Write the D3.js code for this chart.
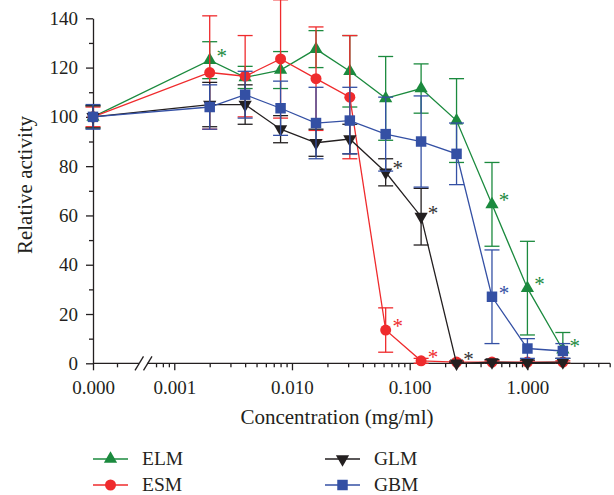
<!DOCTYPE html>
<html>
<head>
<meta charset="utf-8">
<script src="https://cdnjs.cloudflare.com/ajax/libs/d3/7.8.5/d3.min.js"></script>
<style>
  body { margin: 0; background: #fff; }
  svg text { font-family: "Liberation Serif", "DejaVu Serif", serif; fill: #231f20; }
</style>
</head>
<body>
<svg id="chart" width="614" height="495"></svg>
<script>
// concentrations in mg/ml, 0 sits on its own short segment before the axis break
var conc = [0, 0.002, 0.004, 0.008, 0.016, 0.031, 0.0625, 0.125, 0.25, 0.5, 1, 2];

var seriesNames = ["ELM", "ESM", "GLM", "GBM"];

var elmMean = [100, 123, 116, 119, 127.5, 118.5, 107.5, 111.5, 98.5, 64.5, 30.5, 5.5];
var elmErr  = [4.5, 7.5, 4.5, 7.5, 7.5, 14.5, 17, 10, 17, 17, 19, 7];

var esmMean = [100, 118, 116.5, 123.5, 115.5, 108, 13.5, 1, 0.5, 0.5, 0.5, 0.5];
var esmErr  = [4, 23, 16.5, 24, 21, 25, 9, 1, 0.5, 0.5, 0.5, 0.5];

var glmMean = [100, 105, 105, 95, 89.5, 91, 77.5, 59.5, 0, 0.5, 0.3, 0.5];
var glmErr  = [4.5, 9, 8, 5.5, 5.5, 6, 5.5, 11.5, 0.5, 1, 1, 1.5];

var gbmMean = [100, 104, 109, 103.5, 97.5, 98.5, 93, 90, 85, 27, 6, 5];
var gbmErr  = [5, 9, 9.5, 11, 14.5, 13.5, 15, 18.5, 12.5, 19, 4, 3];

// indices of points flagged with an asterisk
var elmSig = [1, 9, 10, 11];
var esmSig = [6, 7];
var glmSig = [6, 7, 8];
var gbmSig = [9];

var xTickValues = [0.001, 0.01, 0.1, 1];
var xTickLabels = ["0.001", "0.010", "0.100", "1.000"];
var xZeroLabel = "0.000";
var yTickValues = [0, 20, 40, 60, 80, 100, 120, 140];
var yMinorValues = [10, 30, 50, 70, 90, 110, 130];

var svg = d3.select("#chart");
var ink = "#231f20";

var xZero = d3.scaleLinear().domain([0, 0.001]).range([93, 141]);
var xLog = d3.scaleLog().domain([0.000686, 5.03]).range([155, 610]);
function xPos(v) { return v === 0 ? xZero(0) : xLog(v); }
var y = d3.scaleLinear().domain([0, 140]).range([363.3, 18.3]);

var series = [
  {name: seriesNames[0], mean: elmMean, err: elmErr, sig: elmSig, color: "#1b8a3e", shape: "up"},
  {name: seriesNames[1], mean: esmMean, err: esmErr, sig: esmSig, color: "#ef2b2d", shape: "circle"},
  {name: seriesNames[2], mean: glmMean, err: glmErr, sig: glmSig, color: "#231f20", shape: "down"},
  {name: seriesNames[3], mean: gbmMean, err: gbmErr, sig: gbmSig, color: "#3450a4", shape: "square"}
];

function symbolPath(shape) {
  if (shape === "circle") return d3.symbol().type(d3.symbolCircle).size(95)();
  if (shape === "square") return d3.symbol().type(d3.symbolSquare).size(110)();
  return d3.symbol().type(d3.symbolTriangle).size(76)();
}
function symbolTransform(shape, px, py) {
  return "translate(" + px + "," + py + ")" + (shape === "down" ? " rotate(180)" : "");
}

// ---- axes ----
var yAxis = svg.append("g").attr("transform", "translate(" + xZero(0) + ",0)")
  .call(d3.axisLeft(y).tickValues(yTickValues).tickSize(7).tickSizeOuter(0).tickPadding(8));
var yMinor = svg.append("g").attr("transform", "translate(" + xZero(0) + ",0)")
  .call(d3.axisLeft(y).tickValues(yMinorValues).tickSize(4).tickFormat(""));
yMinor.select(".domain").remove();

var logMinor = xLog.ticks().filter(function(d) { return xTickValues.indexOf(d) === -1; });
var xAxis = svg.append("g").attr("transform", "translate(0," + y(0) + ")")
  .call(d3.axisBottom(xLog).tickValues(xTickValues).tickSize(7).tickPadding(10)
    .tickFormat(function(d, i) { return xTickLabels[i]; }));
var xMinor = svg.append("g").attr("transform", "translate(0," + y(0) + ")")
  .call(d3.axisBottom(xLog).tickValues(logMinor).tickSize(4).tickFormat(""));
var xZeroAxis = svg.append("g").attr("transform", "translate(0," + y(0) + ")")
  .call(d3.axisBottom(xZero).tickValues([0]).tickSize(7).tickPadding(10)
    .tickFormat(function() { return xZeroLabel; }));
var xZeroMinor = svg.append("g").attr("transform", "translate(0," + y(0) + ")")
  .call(d3.axisBottom(xZero).tickValues([0.0005]).tickSize(4).tickFormat(""));
[xAxis, xMinor, xZeroAxis, xZeroMinor].forEach(function(g) { g.select(".domain").remove(); });

// x axis line drawn by hand so the break can go in
svg.append("line").attr("x1", xZero(0)).attr("x2", 139).attr("y1", y(0)).attr("y2", y(0));
svg.append("line").attr("x1", 147).attr("x2", 610).attr("y1", y(0)).attr("y2", y(0));
[135, 143.5].forEach(function(bx) {
  svg.append("line").attr("x1", bx).attr("y1", y(0) + 7).attr("x2", bx + 8.5).attr("y2", y(0) - 7);
});

svg.selectAll("line, .domain").attr("stroke", ink).attr("stroke-width", 1.3);
svg.selectAll(".tick text").attr("font-size", 19).attr("fill", ink)
  .attr("font-family", "Liberation Serif, DejaVu Serif, serif");

// ---- series ----
var line = d3.line()
  .x(function(d) { return xPos(d[0]); })
  .y(function(d) { return y(d[1]); });

series.forEach(function(s) {
  var g = svg.append("g");
  var pts = conc.map(function(c, i) { return [c, s.mean[i], s.err[i]]; });

  // error bars with caps
  pts.forEach(function(p) {
    var px = xPos(p[0]);
    var top = y(p[1] + p[2]), bot = y(Math.max(0, p[1] - p[2]));
    g.append("line").attr("x1", px).attr("x2", px).attr("y1", top).attr("y2", bot);
    g.append("line").attr("x1", px - 7.5).attr("x2", px + 7.5).attr("y1", top).attr("y2", top);
    g.append("line").attr("x1", px - 7.5).attr("x2", px + 7.5).attr("y1", bot).attr("y2", bot);
  });
  g.selectAll("line").attr("stroke", s.color).attr("stroke-width", 1.3);

  g.append("path").attr("d", line(pts)).attr("fill", "none")
    .attr("stroke", s.color).attr("stroke-width", 1.3);

  g.selectAll(".mark").data(pts).enter().append("path").attr("class", "mark")
    .attr("d", symbolPath(s.shape))
    .attr("transform", function(d) { return symbolTransform(s.shape, xPos(d[0]), y(d[1])); })
    .attr("fill", s.color);

  g.selectAll(".sig").data(s.sig).enter().append("text").attr("class", "sig")
    .attr("x", function(i) { return xPos(conc[i]) + 12; })
    .attr("y", function(i) { return y(s.mean[i]) + 3; })
    .attr("text-anchor", "middle").attr("font-size", 21)
    .style("fill", s.shape === "down" ? "#333" : s.color)
    .text("*");
});

// ---- titles ----
svg.append("text").attr("transform", "translate(32,185) rotate(-90)")
  .attr("text-anchor", "middle").attr("font-size", 21).text("Relative activity");
svg.append("text").attr("x", 337).attr("y", 424)
  .attr("text-anchor", "middle").attr("font-size", 21).text("Concentration (mg/ml)");

// ---- legend ----
var legendPos = [[93, 459], [93, 485], [325, 459], [325, 485]];
series.forEach(function(s, i) {
  var lx = legendPos[i][0], ly = legendPos[i][1];
  var lg = svg.append("g");
  lg.append("line").attr("x1", lx).attr("x2", lx + 35).attr("y1", ly).attr("y2", ly)
    .attr("stroke", s.color).attr("stroke-width", 1.3);
  lg.append("path").attr("d", symbolPath(s.shape))
    .attr("transform", symbolTransform(s.shape, lx + 17.5, ly)).attr("fill", s.color);
  lg.append("text").attr("x", lx + 49).attr("y", ly + 6).attr("font-size", 19.5).text(s.name);
});
</script>
</body>
</html>
